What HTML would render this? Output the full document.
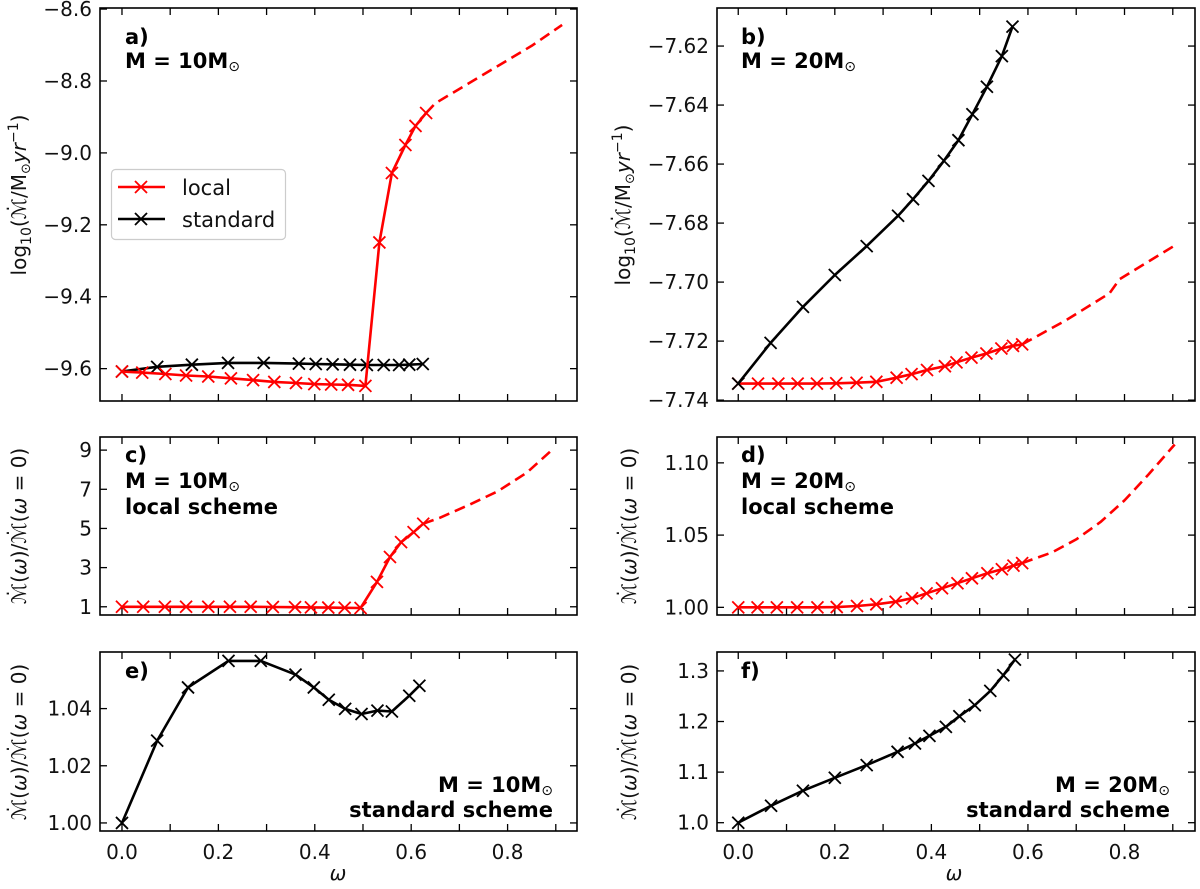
<!DOCTYPE html>
<html><head><meta charset="utf-8">
<style>
html,body{margin:0;padding:0;background:#fff;}
svg{display:block;font-family:"DejaVu Sans","Liberation Sans",sans-serif;}
.tl{font-size:20px;fill:#111;}
.ann{font-size:21px;font-weight:bold;fill:#000;}
.yl{font-size:20px;fill:#111;}
</style></head>
<body>
<svg id="fig" width="1200" height="889" viewBox="0 0 1200 889" xmlns="http://www.w3.org/2000/svg"></svg>
<script>
// ---- data ----
const aLocalW = [0,0.042,0.09,0.133,0.179,0.226,0.272,0.316,0.361,0.399,0.434,0.469,0.505,0.534,0.56,0.588,0.609,0.631];
const aLocalV = [-9.608,-9.611,-9.615,-9.619,-9.622,-9.627,-9.632,-9.637,-9.640,-9.643,-9.644,-9.645,-9.648,-9.249,-9.056,-8.978,-8.925,-8.889];
const aLocalDashW = [0.631,0.65,0.75,0.85,0.913];
const aLocalDashV = [-8.889,-8.862,-8.782,-8.702,-8.644];
const aStdW = [0,0.073,0.145,0.22,0.294,0.367,0.402,0.437,0.473,0.508,0.543,0.575,0.596,0.624];
const aStdV = [-9.608,-9.595,-9.589,-9.584,-9.584,-9.586,-9.587,-9.588,-9.589,-9.590,-9.590,-9.590,-9.589,-9.587];

const bStdW = [0,0.067,0.134,0.2,0.266,0.331,0.362,0.394,0.426,0.456,0.485,0.515,0.546,0.568];
const bStdV = [-7.7344,-7.7206,-7.7084,-7.6976,-7.6878,-7.6775,-7.6719,-7.6657,-7.6589,-7.6519,-7.6431,-7.6338,-7.6234,-7.6134];
const bLocalW = [0,0.041,0.083,0.123,0.163,0.203,0.245,0.286,0.328,0.359,0.391,0.428,0.452,0.483,0.514,0.545,0.569,0.588];
const bLocalV = [-7.7344,-7.7344,-7.7344,-7.7344,-7.7344,-7.7343,-7.7341,-7.7338,-7.7324,-7.7312,-7.7298,-7.7285,-7.7272,-7.7256,-7.7242,-7.7225,-7.7216,-7.7211];
const bLocalDashW = [0.588,0.679,0.769,0.79,0.9];
const bLocalDashV = [-7.7211,-7.7129,-7.7038,-7.699,-7.688];

const cW = [0,0.044,0.089,0.133,0.179,0.224,0.267,0.313,0.359,0.392,0.428,0.462,0.495,0.529,0.556,0.579,0.605,0.625];
const cV = [1,1,1,1,1,1,1,0.99,0.98,0.97,0.96,0.95,0.94,2.27,3.54,4.3,4.81,5.24];
const cDashW = [0.625,0.66,0.72,0.78,0.84,0.894];
const cDashV = [5.24,5.55,6.2,6.9,7.85,9.05];

const dW = [0,0.04,0.08,0.122,0.164,0.204,0.246,0.286,0.326,0.36,0.39,0.422,0.454,0.484,0.516,0.546,0.57,0.588];
const dV = [1,1,1,1,1,1.0002,1.0009,1.0021,1.0039,1.0063,1.0097,1.0132,1.0167,1.0201,1.0236,1.0264,1.0289,1.0306];
const dDashW = [0.588,0.65,0.70,0.75,0.80,0.85,0.904];
const dDashV = [1.0306,1.038,1.047,1.059,1.074,1.092,1.1127];

const eW = [0,0.073,0.137,0.221,0.288,0.36,0.398,0.429,0.463,0.497,0.53,0.56,0.596,0.617];
const eV = [1,1.0288,1.0474,1.0567,1.0567,1.0519,1.0474,1.0431,1.0399,1.0381,1.0393,1.039,1.0445,1.048];

const fW = [0,0.068,0.134,0.2,0.266,0.33,0.366,0.396,0.43,0.458,0.49,0.522,0.549,0.573];
const fV = [1,1.0336,1.0632,1.0888,1.1138,1.1401,1.1566,1.1717,1.1895,1.2105,1.2322,1.2605,1.2914,1.3224];

const xTicks = [0,0.2,0.4,0.6,0.8];
const xMinor = [0.1,0.3,0.5,0.7,0.9];
const aTicks = [-8.6,-8.8,-9.0,-9.2,-9.4,-9.6];
const aTickLabels = ["\u22128.6","\u22128.8","\u22129.0","\u22129.2","\u22129.4","\u22129.6"];
const bTicks = [-7.62,-7.64,-7.66,-7.68,-7.70,-7.72,-7.74];
const bTickLabels = ["\u22127.62","\u22127.64","\u22127.66","\u22127.68","\u22127.70","\u22127.72","\u22127.74"];
const cTicks = [1,3,5,7,9];
const cTickLabels = ["1","3","5","7","9"];
const dTicks = [1.00,1.05,1.10];
const dTickLabels = ["1.00","1.05","1.10"];
const eTicks = [1.00,1.02,1.04];
const eTickLabels = ["1.00","1.02","1.04"];
const fTicks = [1.0,1.1,1.2,1.3];
const fTickLabels = ["1.0","1.1","1.2","1.3"];

const NS = "http://www.w3.org/2000/svg";
const svg = document.getElementById('fig');
function mk(tag, attrs, parent){
  const e = document.createElementNS(NS, tag);
  for (const k in attrs) e.setAttribute(k, attrs[k]);
  (parent||svg).appendChild(e);
  return e;
}

function panel(name, box, xr, yr, yTicks, yLabels, showXLabels){
  const g = mk('g', {});
  
  
  const sx = w => box.x0 + (w - xr[0]) / (xr[1]-xr[0]) * (box.x1-box.x0);
  const sy = v => box.y1 - (v - yr[0]) / (yr[1]-yr[0]) * (box.y1-box.y0);
  const ax = mk('g', {}, g);
  
  
  const tl = 7;
  xTicks.concat(xMinor).forEach(t => {
    const x = sx(t);
    mk('line', {x1:x, x2:x, y1:box.y1, y2:box.y1-tl, stroke:'#000','stroke-width':1.3}, ax);
    mk('line', {x1:x, x2:x, y1:box.y0, y2:box.y0+tl, stroke:'#000','stroke-width':1.3}, ax);
  });
  if (showXLabels){
    xTicks.forEach(t => {
      const tx = mk('text', {x:sx(t), y:box.y1+28, 'text-anchor':'middle', class:'tl'}, ax);
      tx.textContent = t.toFixed(1);
      
      
    });
  }
  yTicks.forEach((t,i) => {
    const y = sy(t);
    mk('line', {x1:box.x0, x2:box.x0+tl, y1:y, y2:y, stroke:'#000','stroke-width':1.3}, ax);
    mk('line', {x1:box.x1, x2:box.x1-tl, y1:y, y2:y, stroke:'#000','stroke-width':1.3}, ax);
    const tx = mk('text', {x:box.x0-8, y:y+7, 'text-anchor':'end', class:'tl'}, ax);
    tx.textContent = yLabels[i];
    
    
  });
  mk('rect', {x:box.x0, y:box.y0, width:box.x1-box.x0, height:box.y1-box.y0, fill:'none', stroke:'#000','stroke-width':1.6}, ax);
  return {g, sx, sy, box};
}

function series(p, ws, vs, color, name, dashed, markers){
  const d = ws.map((w,i)=> (i?'L':'M') + p.sx(w).toFixed(1) + ' ' + p.sy(vs[i]).toFixed(1)).join(' ');
  const path = mk('path', {d, fill:'none', stroke:color, 'stroke-width':2.6, 'stroke-dasharray': dashed?'11 6':'none', 'stroke-linejoin':'round'}, p.g);
  
  
  if (markers){
    ws.forEach((w,i)=>{
      const x = p.sx(w), y = p.sy(vs[i]), s = 6;
      const m = mk('path', {d:`M${x-s} ${y-s}L${x+s} ${y+s}M${x-s} ${y+s}L${x+s} ${y-s}`, stroke:color, 'stroke-width':1.8, fill:'none'}, p.g);
      
      
    });
  }
}

function text(x, y, str, cls, anchor, name, parent){
  const t = mk('text', {x, y, class:cls, 'text-anchor':anchor||'start'}, parent);
  t.innerHTML = str;
  
  
  return t;
}
const SUN = '<tspan font-size="14" dy="3" font-weight="normal">\u2299</tspan>';

const xrL = [-0.0456, 0.944], xrR = [-0.044, 0.946];

// panel a
const pa = panel('panel-a', {x0:100,x1:577,y0:8,y1:401}, xrL, [-9.69,-8.597], aTicks, aTickLabels, false);
series(pa, aStdW, aStdV, '#000', 'standard-line-a', false, true);
series(pa, aLocalW, aLocalV, '#ff0000', 'local-line-a', false, true);
series(pa, aLocalDashW, aLocalDashV, '#ff0000', 'local-extrapolation-a', true, false);
text(125, 44, 'a)', 'ann', 'start', 'panel-a-label', pa.g);
text(125, 68, 'M = 10M' + SUN, 'ann', 'start', 'panel-a-mass', pa.g);
// legend
const lg = mk('g', {});


mk('rect', {x:111.5, y:169.5, width:174, height:70, rx:4, fill:'#fff', stroke:'#ccc', 'stroke-width':1.2}, lg);
[['local','#ff0000',187],['standard','#000',219]].forEach(([lab,col,y])=>{
  const e = mk('g', {}, lg);
  
  
  mk('line', {x1:118, x2:165, y1:y, y2:y, stroke:col, 'stroke-width':2.6}, e);
  mk('path', {d:`M135 ${y-6}L147 ${y+6}M135 ${y+6}L147 ${y-6}`, stroke:col, 'stroke-width':1.8}, e);
  const t = mk('text', {x:182, y:y+8, 'font-size':21, fill:'#111'}, e);
  t.textContent = lab;
});
const yla = mk('text', {transform:'translate(26,195) rotate(-90)', 'text-anchor':'middle', class:'yl'});
yla.innerHTML = 'log<tspan font-size="14" dy="5">10</tspan><tspan dy="-5">(\u2133\u0307/M</tspan><tspan font-size="13" dy="4">\u2299</tspan><tspan dy="-4" font-style="italic">yr</tspan><tspan font-size="14" dy="-8">\u22121</tspan><tspan dy="8">)</tspan>';



// panel b
const pb = panel('panel-b', {x0:717,x1:1195,y0:8,y1:401}, xrR, [-7.7403,-7.6071], bTicks, bTickLabels, false);
series(pb, bLocalW, bLocalV, '#ff0000', 'local-line-b', false, true);
series(pb, bLocalDashW, bLocalDashV, '#ff0000', 'local-extrapolation-b', true, false);
series(pb, bStdW, bStdV, '#000', 'standard-line-b', false, true);
text(741, 44, 'b)', 'ann', 'start', 'panel-b-label', pb.g);
text(741, 68, 'M = 20M' + SUN, 'ann', 'start', 'panel-b-mass', pb.g);
const ylb = mk('text', {transform:'translate(630,205) rotate(-90)', 'text-anchor':'middle', class:'yl'});
ylb.innerHTML = yla.innerHTML;



// ratio y label
function ratioLabel(x, y, name){
  const t = mk('text', {transform:`translate(${x},${y}) rotate(-90)`, 'text-anchor':'middle', class:'yl'});
  t.innerHTML = '\u2133\u0307(<tspan font-style="italic">\u03c9</tspan>)/\u2133\u0307(<tspan font-style="italic">\u03c9</tspan> = 0)';
  
  
}

// panel c
const pc = panel('panel-c', {x0:100,x1:577,y0:437,y1:615}, xrL, [0.58,9.67], cTicks, cTickLabels, false);
series(pc, cW, cV, '#ff0000', 'local-ratio-c', false, true);
series(pc, cDashW, cDashV, '#ff0000', 'local-ratio-extrapolation-c', true, false);
text(125, 462, 'c)', 'ann', 'start', 'panel-c-label', pc.g);
text(125, 488, 'M = 10M' + SUN, 'ann', 'start', 'panel-c-mass', pc.g);
text(125, 514, 'local scheme', 'ann', 'start', 'panel-c-scheme', pc.g);
ratioLabel(26, 526, 'y-axis-title-c');

// panel d
const pd = panel('panel-d', {x0:717,x1:1195,y0:437,y1:615}, xrR, [0.9947,1.1179], dTicks, dTickLabels, false);
series(pd, dW, dV, '#ff0000', 'local-ratio-d', false, true);
series(pd, dDashW, dDashV, '#ff0000', 'local-ratio-extrapolation-d', true, false);
text(741, 462, 'd)', 'ann', 'start', 'panel-d-label', pd.g);
text(741, 488, 'M = 20M' + SUN, 'ann', 'start', 'panel-d-mass', pd.g);
text(741, 514, 'local scheme', 'ann', 'start', 'panel-d-scheme', pd.g);
ratioLabel(636, 526, 'y-axis-title-d');

// panel e
const pe = panel('panel-e', {x0:100,x1:577,y0:652,y1:831}, xrL, [0.99718,1.0598], eTicks, eTickLabels, true);
series(pe, eW, eV, '#000', 'standard-ratio-e', false, true);
text(125, 678, 'e)', 'ann', 'start', 'panel-e-label', pe.g);
text(553, 792, 'M = 10M' + SUN, 'ann', 'end', 'panel-e-mass', pe.g);
text(553, 817, 'standard scheme', 'ann', 'end', 'panel-e-scheme', pe.g);
ratioLabel(26, 742, 'y-axis-title-e');
text(338, 880, '\u03c9', 'yl', 'middle', 'x-axis-title-e').setAttribute('font-style','italic');

// panel f
const pf = panel('panel-f', {x0:717,x1:1195,y0:652,y1:831}, xrR, [0.9836,1.3374], fTicks, fTickLabels, true);
series(pf, fW, fV, '#000', 'standard-ratio-f', false, true);
text(741, 678, 'f)', 'ann', 'start', 'panel-f-label', pf.g);
text(1170, 792, 'M = 20M' + SUN, 'ann', 'end', 'panel-f-mass', pf.g);
text(1170, 817, 'standard scheme', 'ann', 'end', 'panel-f-scheme', pf.g);
ratioLabel(636, 742, 'y-axis-title-f');
text(954, 880, '\u03c9', 'yl', 'middle', 'x-axis-title-f').setAttribute('font-style','italic');
</script>
</body></html>
